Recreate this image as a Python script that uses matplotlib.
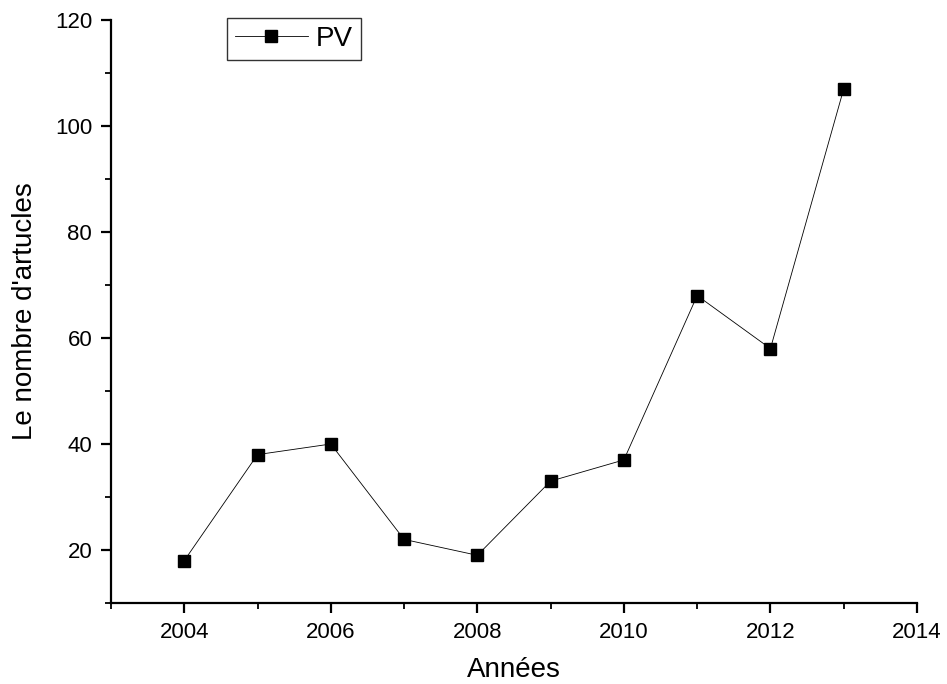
import matplotlib.pyplot as plt
from matplotlib.ticker import MultipleLocator

plt.rcParams['font.family'] = ['Liberation Sans', 'DejaVu Sans']

# Nombre d'articles par année
annees = [2004, 2005, 2006, 2007, 2008, 2009, 2010, 2011, 2012, 2013]
articles = [18, 38, 40, 22, 19, 33, 37, 68, 58, 107]

fig = plt.figure(figsize=(9.47, 6.84), dpi=100)
ax = fig.add_axes([0.1172, 0.1184, 0.8511, 0.8524])

ax.plot(annees, articles, color='black', linewidth=0.6, marker='s',
        markersize=8, label='PV')

ax.set_xlim(2003, 2014)
ax.set_ylim(10, 120)
ax.xaxis.set_major_locator(MultipleLocator(2))
ax.xaxis.set_minor_locator(MultipleLocator(1))
ax.yaxis.set_major_locator(MultipleLocator(20))
ax.yaxis.set_minor_locator(MultipleLocator(10))

for s in ['top', 'right']:
    ax.spines[s].set_visible(False)
for s in ['left', 'bottom']:
    ax.spines[s].set_linewidth(1.6)

ax.tick_params(which='major', direction='out', length=7.5, width=1.6, labelsize=16, pad=6)
ax.tick_params(which='minor', direction='out', length=4, width=1.3)

ax.set_xlabel('Années', fontsize=20, labelpad=10)
ax.set_ylabel("Le nombre d'artucles", fontsize=20, labelpad=12)

leg = ax.legend(loc='upper left', bbox_to_anchor=(0.144, 1.004), fontsize=20,
                frameon=True, fancybox=False, handlelength=2.6,
                borderpad=0.3, handletextpad=0.3, borderaxespad=0)
leg.get_frame().set_edgecolor('black')
leg.get_frame().set_linewidth(1.0)

fig.savefig('out.png', dpi=100)
